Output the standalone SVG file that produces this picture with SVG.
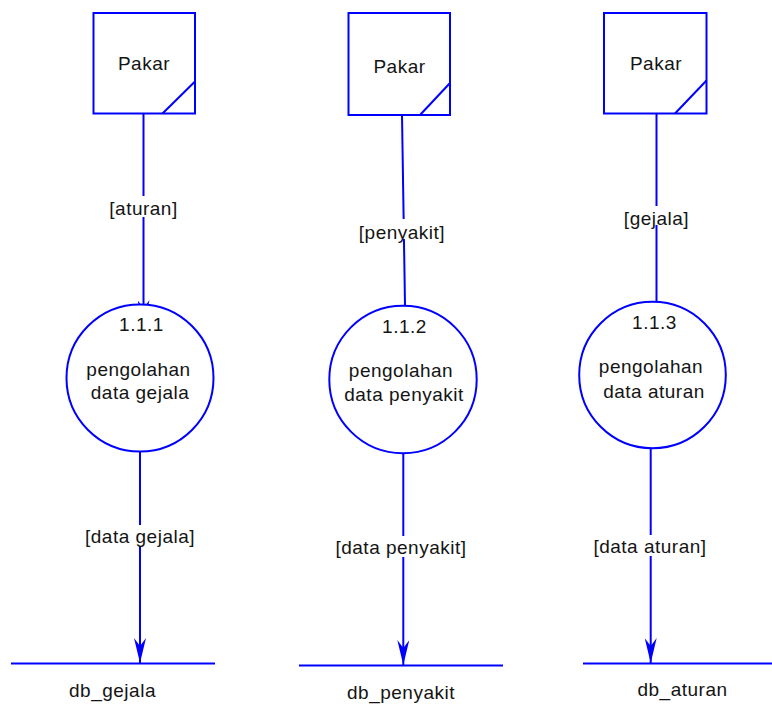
<svg xmlns="http://www.w3.org/2000/svg" width="772" height="713" viewBox="0 0 772 713">
  <style>
    .shape { fill: #ffffff; stroke: #0000ff; stroke-width: 2; }
    .flow { fill: none; stroke: #0000ff; stroke-width: 2; }
    .store { fill: none; stroke: #0000ff; stroke-width: 2; }
    .txt { font-family: "Liberation Sans", Arial, sans-serif; font-size: 19px; letter-spacing: 0.5px; fill: #141414; text-anchor: middle; }
    .bg { fill: #ffffff; stroke: none; }
  </style>
  <defs>
    <marker id="arrow" markerUnits="userSpaceOnUse" viewBox="0 0 25 12" refX="25" refY="6" markerWidth="25" markerHeight="12" orient="auto">
      <path d="M0,0 L25,6 L0,12 L8,6 Z" fill="#0000ff"/>
    </marker>
  </defs>

  <!-- data flows -->
  <g id="connectors">
    <!-- column 1 -->
    <line class="flow" x1="143.5" y1="113" x2="143.5" y2="325" marker-end="url(#arrow)"/>
    <rect class="bg" x="108" y="196" width="71" height="21"/>
    <text class="txt" x="143.5" y="215">[aturan]</text>
    <line class="flow" x1="140" y1="452" x2="140" y2="663" marker-end="url(#arrow)"/>
    <rect class="bg" x="84" y="525" width="112" height="21"/>
    <text class="txt" x="140" y="543">[data gejala]</text>

    <!-- column 2 -->
    <line class="flow" x1="402" y1="115" x2="405" y2="305"/>
    <rect class="bg" x="359" y="219" width="86" height="20"/>
    <text class="txt" x="402" y="239">[penyakit]</text>
    <line class="flow" x1="403.3" y1="454" x2="403.3" y2="665" marker-end="url(#arrow)"/>
    <rect class="bg" x="336" y="536" width="130" height="21"/>
    <text class="txt" x="401" y="554">[data penyakit]</text>

    <!-- column 3 -->
    <line class="flow" x1="656.5" y1="113" x2="656.5" y2="302"/>
    <rect class="bg" x="621" y="206" width="70" height="19"/>
    <text class="txt" x="656.5" y="225">[gejala]</text>
    <line class="flow" x1="650.7" y1="448" x2="650.7" y2="663" marker-end="url(#arrow)"/>
    <rect class="bg" x="592" y="535" width="118" height="21"/>
    <text class="txt" x="650" y="553">[data aturan]</text>
  </g>

  <!-- external entities -->
  <g id="pakar-1">
    <rect class="shape" x="93.5" y="13" width="101.5" height="100.5"/>
    <line class="flow" x1="195" y1="81.5" x2="162.5" y2="113.5"/>
    <text class="txt" x="144" y="70">Pakar</text>
  </g>
  <g id="pakar-2">
    <rect class="shape" x="348.5" y="13" width="101.5" height="102"/>
    <line class="flow" x1="450" y1="83" x2="420" y2="115"/>
    <text class="txt" x="399.5" y="72.5">Pakar</text>
  </g>
  <g id="pakar-3">
    <rect class="shape" x="604" y="13" width="102.5" height="100.5"/>
    <line class="flow" x1="706.5" y1="80.5" x2="675" y2="113.5"/>
    <text class="txt" x="656" y="70">Pakar</text>
  </g>

  <!-- processes -->
  <g id="proses-111">
    <circle class="shape" cx="140" cy="378" r="73.5"/>
    <text class="txt" x="141.5" y="331">1.1.1</text>
    <text class="txt" x="138.5" y="376">pengolahan</text>
    <text class="txt" x="140" y="399">data gejala</text>
  </g>
  <g id="proses-112">
    <circle class="shape" cx="403" cy="379.5" r="73.7"/>
    <text class="txt" x="404.5" y="333">1.1.2</text>
    <text class="txt" x="401" y="377">pengolahan</text>
    <text class="txt" x="404" y="401">data penyakit</text>
  </g>
  <g id="proses-113">
    <circle class="shape" cx="652.5" cy="375" r="73.3"/>
    <text class="txt" x="654.5" y="329">1.1.3</text>
    <text class="txt" x="651" y="373">pengolahan</text>
    <text class="txt" x="654" y="398">data aturan</text>
  </g>

  <!-- data stores -->
  <g id="db-gejala">
    <line class="store" x1="11" y1="663.5" x2="215" y2="663.5"/>
    <text class="txt" x="112.5" y="697">db_gejala</text>
  </g>
  <g id="db-penyakit">
    <line class="store" x1="299" y1="665.5" x2="503" y2="665.5"/>
    <text class="txt" x="401" y="699">db_penyakit</text>
  </g>
  <g id="db-aturan">
    <line class="store" x1="583" y1="663.5" x2="772" y2="663.5"/>
    <text class="txt" x="682.5" y="696">db_aturan</text>
  </g>
</svg>
